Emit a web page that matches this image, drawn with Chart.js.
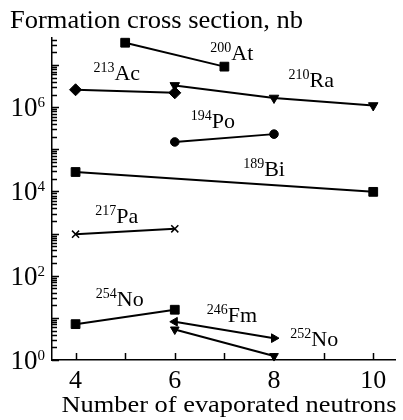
<!DOCTYPE html>
<html>
<head>
<meta charset="utf-8">
<script src="https://cdn.jsdelivr.net/npm/chart.js@4/dist/chart.umd.min.js"></script>
<style>
  html, body { margin: 0; padding: 0; background: #fff; }
  #wrap { width: 403px; height: 420px; position: relative; }
</style>
</head>
<body>
<div id="wrap"><canvas id="chart"></canvas></div>
<script>
// Formation cross sections (nb) vs number of evaporated neutrons

const SERIF = "'Liberation Serif', 'DejaVu Serif', serif";

// series
const at200X = [5, 7];
const at200Y = [3.4e7, 9.2e6];
const ac213X = [4, 6];
const ac213Y = [2.6e6, 2.2e6];
const ra210X = [6, 8, 10];
const ra210Y = [3.3e6, 1.66e6, 1.1e6];
const po194X = [6, 8];
const po194Y = [1.5e5, 2.3e5];
const bi189X = [4, 10];
const bi189Y = [2.9e4, 9.8e3];
const pa217X = [4, 6];
const pa217Y = [970, 1300];
const no254X = [4, 6];
const no254Y = [7.1, 15.6];
const fm246X = [6, 8];
const fm246Y = [8.1, 3.3];
const no252X = [6, 8];
const no252Y = [5.3, 1.24];

// isotope labels: mass number, element, and where the text sits (data coords)
const labelMass = ['200', '213', '210', '194', '189', '217', '254', '246', '252'];
const labelElem = ['At', 'Ac', 'Ra', 'Po', 'Bi', 'Pa', 'No', 'Fm', 'No'];
const labelX = [7.15, 4.83, 8.75, 6.77, 7.80, 4.83, 4.89, 7.15, 8.81];
const labelLogY = [7.11, 6.64, 6.47, 5.50, 4.36, 3.25, 1.28, 0.90, 0.33];

// ticks
const xTicks = [4, 5, 6, 7, 8, 9, 10];
const xTickLabels = [4, 6, 8, 10];
const yLabelExps = [0, 2, 4, 6];

const pts = (xs, ys) => xs.map((x, i) => ({ x, y: ys[i] }));

function series(label, xs, ys, style, radius, rotation) {
  return {
    label,
    data: pts(xs, ys),
    showLine: true,
    borderColor: '#000',
    borderWidth: 2,
    pointStyle: style,
    pointRadius: radius,
    pointRotation: rotation || 0,
    pointBackgroundColor: '#000',
    pointBorderColor: '#000',
    pointBorderWidth: style === 'crossRot' ? 1.5 : 1,
    clip: false,
  };
}

// draw text squeezed/stretched horizontally to a given width (the scan is a bit wide)
function fillFit(ctx, text, x, y, width, align) {
  const w = ctx.measureText(text).width;
  const sx = width / w;
  let x0 = x;
  if (align === 'center') x0 = x - width / 2;
  ctx.save();
  ctx.textAlign = 'left';
  ctx.translate(x0, y);
  ctx.scale(sx, 1);
  ctx.fillText(text, 0, 0);
  ctx.restore();
}

// inward ticks, tick labels with superscripts, titles, isotope labels
const decorPlugin = {
  id: 'decor',
  afterDraw(chart) {
    const { ctx, chartArea: a } = chart;
    const xs = chart.scales.x, ys = chart.scales.y;
    ctx.save();
    ctx.strokeStyle = '#000';
    ctx.fillStyle = '#000';
    ctx.lineWidth = 1.5;

    // y ticks (log minor)
    ctx.beginPath();
    for (let e = 0; e <= 7; e++) {
      for (let k = 1; k <= 9; k++) {
        const v = k * Math.pow(10, e);
        if (v > ys.max) continue;
        const py = Math.round(ys.getPixelForValue(v)) + 0.5;
        const len = k === 1 ? 7 : 5;
        ctx.moveTo(a.left, py);
        ctx.lineTo(a.left + len, py);
      }
    }
    // x ticks
    for (const v of xTicks) {
      const px = Math.round(xs.getPixelForValue(v)) + 0.5;
      ctx.moveTo(px, a.bottom);
      ctx.lineTo(px, a.bottom - 7);
    }
    ctx.stroke();

    // x tick labels
    ctx.font = `26px ${SERIF}`;
    ctx.textAlign = 'center';
    ctx.textBaseline = 'alphabetic';
    for (const v of xTickLabels) {
      ctx.fillText(String(v), xs.getPixelForValue(v), 388);
    }

    // y tick labels 10^n
    for (const e of yLabelExps) {
      const py = ys.getPixelForValue(Math.pow(10, e));
      ctx.font = `15px ${SERIF}`;
      ctx.textAlign = 'right';
      const sw = ctx.measureText(String(e)).width;
      ctx.fillText(String(e), 45, py);
      ctx.font = `27px ${SERIF}`;
      ctx.fillText('10', 45 - sw, py + 9);
    }

    // titles
    ctx.font = `25px ${SERIF}`;
    fillFit(ctx, 'Formation cross section, nb', 10, 28, 293, 'left');
    ctx.font = `24px ${SERIF}`;
    fillFit(ctx, 'Number of evaporated neutrons', 229, 412, 335, 'center');

    // isotope labels
    ctx.textAlign = 'left';
    labelElem.forEach((el, i) => {
      const cx = xs.getPixelForValue(labelX[i]);
      const by = ys.getPixelForValue(Math.pow(10, labelLogY[i]));
      ctx.font = `14px ${SERIF}`;
      const mw = ctx.measureText(labelMass[i]).width;
      ctx.font = `22px ${SERIF}`;
      const ew = ctx.measureText(el).width;
      const x0 = cx - (mw + ew) / 2;
      ctx.fillText(el, x0 + mw, by);
      ctx.font = `14px ${SERIF}`;
      ctx.fillText(labelMass[i], x0, by - 8.5);
    });
    ctx.restore();
  },
};

new Chart(document.getElementById('chart'), {
  type: 'scatter',
  data: {
    datasets: [
      series('200At', at200X, at200Y, 'rect', 6.2),
      series('213Ac', ac213X, ac213Y, 'rectRot', 6),
      series('210Ra', ra210X, ra210Y, 'triangle', 5.5, 180),
      series('194Po', po194X, po194Y, 'circle', 4.3),
      series('189Bi', bi189X, bi189Y, 'rect', 6.2),
      series('217Pa', pa217X, pa217Y, 'crossRot', 5),
      series('254No', no254X, no254Y, 'rect', 6.2),
      series('246Fm', fm246X, fm246Y, 'triangle', 5, [270, 90]),
      series('252No', no252X, no252Y, 'triangle', 5, [300, 180]),
    ],
  },
  options: {
    responsive: true,
    maintainAspectRatio: false,
    animation: false,
    layout: { padding: { top: 38, right: 1, left: 0, bottom: 0 } },
    plugins: {
      legend: { display: false },
      tooltip: { enabled: false },
      title: { display: false },
    },
    scales: {
      x: {
        type: 'linear',
        min: 3.525,
        max: 10.455,
        grid: { display: false },
        border: { display: true, color: '#000', width: 1.5 },
        ticks: { display: false },
        afterFit: (s) => { s.height = 60; },
      },
      y: {
        type: 'logarithmic',
        min: 1,
        max: 4.4e7,
        grid: { display: false },
        border: { display: true, color: '#000', width: 1.5 },
        ticks: { display: false },
        afterFit: (s) => { s.width = 52; },
      },
    },
  },
  plugins: [decorPlugin],
});
</script>
</body>
</html>
